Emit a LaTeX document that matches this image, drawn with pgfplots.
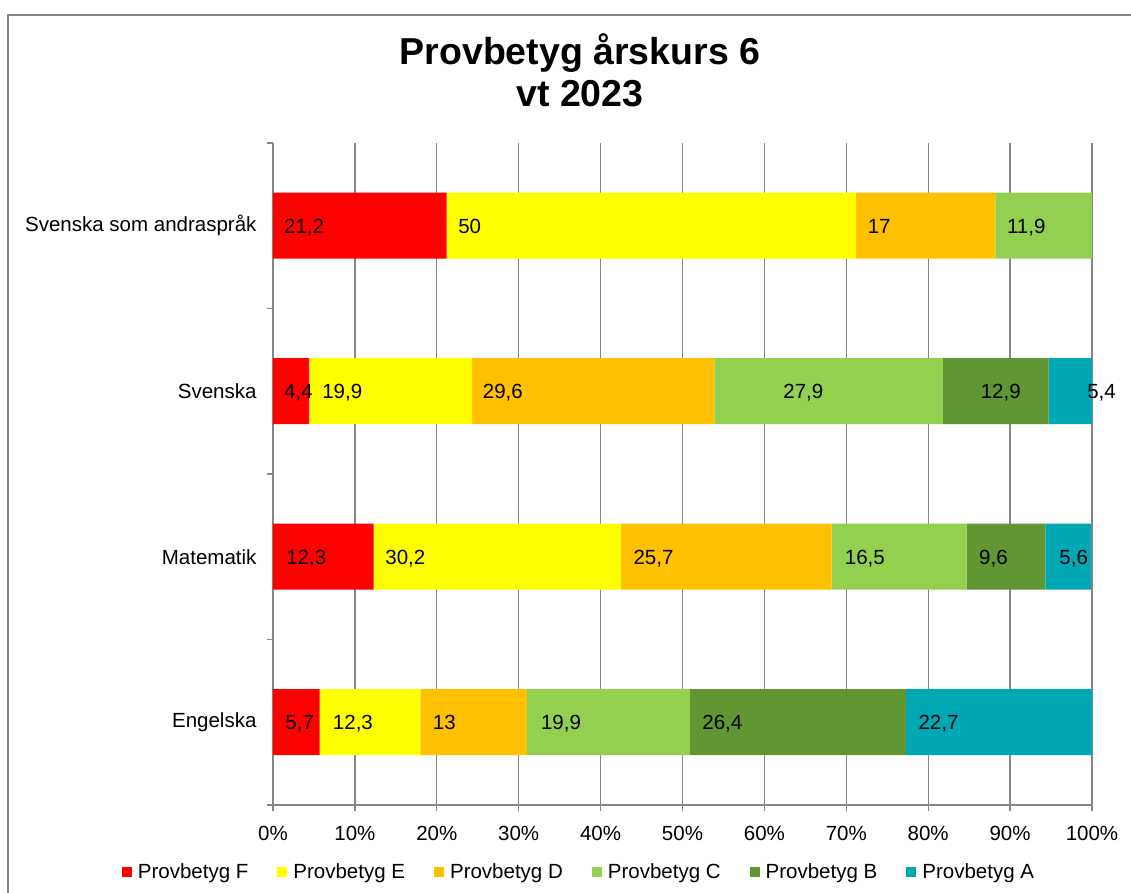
\documentclass[border=0pt]{standalone}
\usepackage{fontspec}
\setmainfont{Liberation Sans}
\usepackage{pgfplots}
\pgfplotsset{compat=1.18}
\usepackage{pgfplotstable}
\definecolor{cF}{RGB}{255,0,0}
\definecolor{cE}{RGB}{255,255,0}
\definecolor{cD}{RGB}{255,192,0}
\definecolor{cC}{RGB}{146,208,80}
\definecolor{cB}{RGB}{96,151,50}
\definecolor{cA}{RGB}{0,168,180}
\definecolor{axgray}{RGB}{134,134,134}

\pgfplotstableread{
y F E D C B A
0 5.7 12.3 13 19.9 26.4 22.7
1 12.3 30.2 25.7 16.5 9.6 5.6
2 4.4 19.9 29.6 27.9 12.9 5.4
3 21.2 50 17 11.9 0 0
}\data

\pgfplotstableread{
x y lab
1.34 3 21,2
22.6 3 50
72.6 3 17
89.6 3 11,9
1.34 2 4,4
6.0 2 19,9
25.6 2 29,6
62.3 2 27,9
86.4 2 12,9
99.4 2 5,4
1.6 1 12,3
13.7 1 30,2
44.0 1 25,7
69.8 1 16,5
86.2 1 9,6
96.0 1 5,6
1.5 0 5,7
7.3 0 12,3
19.5 0 13
32.7 0 19,9
52.4 0 26,4
78.8 0 22,7
}\labels

\begin{document}
\begin{tikzpicture}
\useasboundingbox (-273pt,-88pt) rectangle (858pt,805pt);
\draw[axgray, line width=1.5pt] (-265pt,-120pt) -- (-265pt,790pt) -- (900pt,790pt);
\begin{axis}[
  at={(0pt,0pt)}, anchor=south west,
  width=819pt, height=662pt, scale only axis,
  xbar stacked, bar width=66pt,
  xmin=0, xmax=100, ymin=-0.5, ymax=3.5,
  axis x line=bottom, axis y line=left,
  axis line style={-, axgray, line width=1.3pt},
  xtick={0,10,...,100},
  xticklabels={0\%,10\%,20\%,30\%,40\%,50\%,60\%,70\%,80\%,90\%,100\%},
  xticklabel style={yshift=-12pt},
  xmajorgrids, grid style={axgray, line width=1.3pt},
  tick align=outside, major tick length=6pt,
  tick style={axgray, line width=1.3pt},
  ytick={-0.5,0.5,1.5,2.5,3.5}, yticklabels={},
  extra y ticks={0,1,2,3},
  extra y tick labels={Engelska,Matematik,Svenska,Svenska som andraspråk},
  extra y tick style={major tick length=0pt, yticklabel style={xshift=-13pt}},
  ticklabel style={font=\fontsize{20.5}{24}\selectfont, text=black},
  legend columns=6,
  legend style={at={(0.3736,-0.101)}, anchor=center, draw=none,
    font=\fontsize{20.5}{24}\selectfont,
    /tikz/every even column/.append style={column sep=27pt}},
  legend image code/.code={\fill[#1] (0pt,-5pt) rectangle (10pt,5pt); \path (0pt,0pt) -- (14pt,0pt);},
]
\addplot[fill=cF, draw=none] table[x=F,y=y]{\data}; \addlegendentry{Provbetyg F}
\addplot[fill=cE, draw=none] table[x=E,y=y]{\data}; \addlegendentry{Provbetyg E}
\addplot[fill=cD, draw=none] table[x=D,y=y]{\data}; \addlegendentry{Provbetyg D}
\addplot[fill=cC, draw=none] table[x=C,y=y]{\data}; \addlegendentry{Provbetyg C}
\addplot[fill=cB, draw=none] table[x=B,y=y]{\data}; \addlegendentry{Provbetyg B}
\addplot[fill=cA, draw=none] table[x=A,y=y]{\data}; \addlegendentry{Provbetyg A}
\end{axis}
\begin{axis}[
  at={(0pt,0pt)}, anchor=south west,
  width=819pt, height=662pt, scale only axis,
  xmin=0, xmax=100, ymin=-0.5, ymax=3.5,
  axis lines=none, clip=false,
]
\addplot[only marks, mark=none,
  nodes near coords, point meta=explicit symbolic,
  nodes near coords style={anchor=base west, inner sep=0pt, text=black,
    yshift=-7.5pt, font=\fontsize{20.5}{24}\selectfont}]
  table[x=x,y=y,meta=lab]{\labels};
\end{axis}
\node[anchor=base, font=\fontsize{37.5}{45}\selectfont\bfseries] at (307pt,740pt) {Provbetyg årskurs 6};
\node[anchor=base, font=\fontsize{37.5}{45}\selectfont\bfseries] at (307pt,698pt) {vt 2023};
\end{tikzpicture}
\end{document}
